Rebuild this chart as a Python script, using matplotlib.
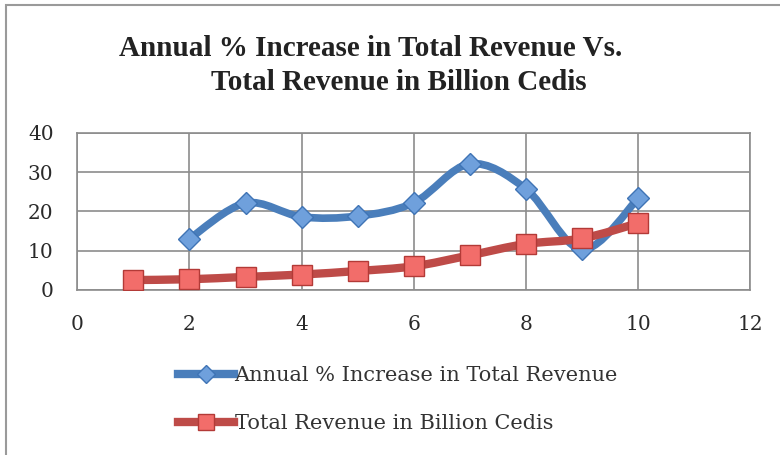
import numpy as np
import matplotlib
matplotlib.use("Agg")
import matplotlib.pyplot as plt
from matplotlib.path import Path
from matplotlib.patches import PathPatch, Rectangle
from matplotlib.lines import Line2D

plt.rcParams['font.family'] = ['DejaVu Serif']

# data
years_pct = [2, 3, 4, 5, 6, 7, 8, 9, 10]
pct_increase = [13.0, 22.1, 18.6, 18.8, 22.2, 32.1, 25.7, 10.3, 23.3]
years_rev = [1, 2, 3, 4, 5, 6, 7, 8, 9, 10]
revenue = [2.5, 2.7, 3.3, 3.9, 4.8, 6.0, 8.8, 11.7, 13.1, 17.0]
label_pct = 'Annual % Increase in Total Revenue'
label_rev = 'Total Revenue in Billion Cedis'
title_lines = ['Annual % Increase in Total Revenue Vs.', 'Total Revenue in Billion Cedis']

blue_line, blue_mark, blue_edge = '#4A7EBB', '#6FA0DC', '#3F74B5'
red_line, red_mark, red_edge = '#BE4B48', '#F26D6A', '#B33A37'


def smooth_path(xs, ys):
    # Excel-like smoothed line: bezier segments through every point
    p = np.column_stack([xs, ys]).astype(float)
    verts = [p[0]]
    codes = [Path.MOVETO]
    n = len(p)
    for i in range(n - 1):
        p_prev = p[i - 1] if i > 0 else p[i]
        p_next2 = p[i + 2] if i + 2 < n else p[i + 1]
        c1 = p[i] + (p[i + 1] - p_prev) / 6
        c2 = p[i + 1] - (p_next2 - p[i]) / 6
        verts += [c1, c2, p[i + 1]]
        codes += [Path.CURVE4] * 3
    return Path(verts, codes)


fig = plt.figure(figsize=(7.8, 4.55), dpi=100)
fig.patches.append(Rectangle((0.008, -0.1), 1.2, 1.09, transform=fig.transFigure,
                             fill=False, edgecolor='#9a9a9a', linewidth=1.5))

ax = fig.add_axes([0.099, 0.363, 0.863, 0.345])
ax.set_xlim(0, 12)
ax.set_ylim(0, 40)
ax.set_xticks(range(0, 13, 2))
ax.set_yticks(range(0, 41, 10))
ax.grid(True, color='#8c8c8c', linewidth=1.2)
ax.set_axisbelow(True)
for s in ax.spines.values():
    s.set_color('#8c8c8c')
    s.set_linewidth(1.2)
ax.tick_params(length=0, labelsize=14.5, labelcolor='#2a2a2a')
ax.tick_params(axis='x', pad=18)
ax.tick_params(axis='y', pad=17)
ax.patch.set_visible(False)

ax.add_patch(PathPatch(smooth_path(years_pct, pct_increase), fill=False,
                       edgecolor=blue_line, linewidth=5.5, capstyle='round', zorder=3))
ax.plot(years_pct, pct_increase, linestyle='none', marker='D', markersize=11,
        markerfacecolor=blue_mark, markeredgecolor=blue_edge, markeredgewidth=1, zorder=4)

ax.add_patch(PathPatch(smooth_path(years_rev, revenue), fill=False,
                       edgecolor=red_line, linewidth=6, capstyle='round', zorder=5))
ax.plot(years_rev, revenue, linestyle='none', marker='s', markersize=14,
        markerfacecolor=red_mark, markeredgecolor=red_edge, markeredgewidth=1, zorder=6)

# two title lines, centred like the original (first line sits a bit left)
fig.text(371 / 780, 1 - 48 / 455, title_lines[0], ha='center', va='center',
         fontsize=21, fontweight='bold', color='#222222', family='Liberation Serif')
fig.text(399 / 780, 1 - 83 / 455, title_lines[1], ha='center', va='center',
         fontsize=21, fontweight='bold', color='#222222', family='Liberation Serif')

handles = [
    Line2D([], [], color=blue_line, linewidth=6, marker='D', markersize=9,
           markerfacecolor=blue_mark, markeredgecolor=blue_edge),
    Line2D([], [], color=red_line, linewidth=6, marker='s', markersize=12,
           markerfacecolor=red_mark, markeredgecolor=red_edge),
]
fig.legend(handles, [label_pct, label_rev], loc='upper left',
           bbox_to_anchor=(0.218, 0.213), frameon=False, fontsize=15,
           handlelength=2.65, handletextpad=0.05, labelspacing=1.38,
           labelcolor='#333333', borderaxespad=0)

fig.savefig('out.png', dpi=100)
